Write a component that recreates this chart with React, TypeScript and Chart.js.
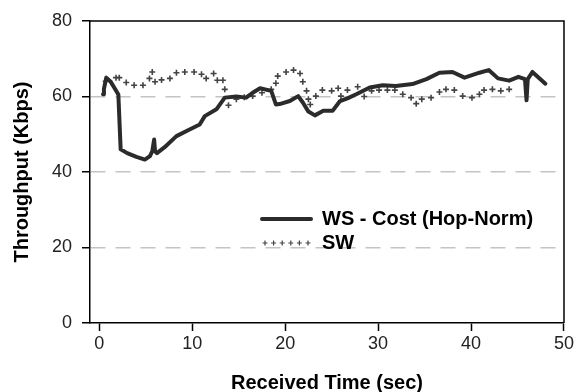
import React, { useEffect, useRef } from "react";
import { Chart, registerables } from "chart.js";

Chart.register(...registerables);

const wsLabel = "WS - Cost (Hop-Norm)";
const swLabel = "SW";
const xTitle = "Received Time (sec)";
const yTitle = "Throughput (Kbps)";

const wsX = [0.4, 0.5, 0.75, 1.2, 1.7, 2.05, 2.3, 3.0, 4.0, 4.9, 5.45, 5.7, 5.9, 6.0, 6.2, 7.0, 8.3, 9.5, 10.8, 11.35, 12.6, 13.5, 14.75, 15.8, 16.5, 17.3, 18.5, 19.0, 19.4, 20.5, 21.4, 21.9, 22.5, 23.2, 24.1, 25.1, 25.9, 26.7, 27.65, 29.1, 30.5, 31.9, 33.7, 35.2, 36.6, 38.0, 39.3, 40.9, 41.9, 42.9, 44.1, 45.1, 45.8, 45.97, 46.1, 46.6, 48.0];
const wsY = [60.6, 62, 65, 64, 62, 60.5, 46, 45, 44, 43.3, 44.2, 45.5, 48.6, 45.5, 45, 46.5, 49.5, 51, 52.6, 54.8, 56.6, 59.7, 60, 59.7, 61, 62.2, 61.5, 57.9, 58, 58.8, 60.1, 58.4, 56, 55, 56.2, 56.2, 58.8, 59.5, 60.6, 62.4, 63, 62.8, 63.3, 64.6, 66.3, 66.5, 65, 66.3, 67, 64.8, 64.2, 65.2, 64.6, 59, 64.6, 66.5, 63.4];

const swX = [0.7, 1.8, 2.15, 2.9, 3.75, 4.7, 5.4, 5.7, 6.0, 6.7, 7.6, 8.3, 9.2, 10.2, 11.0, 11.5, 12.3, 12.7, 13.3, 13.5, 13.9, 14.75, 15.6, 16.5, 17.5, 18.5, 19.0, 19.2, 20.1, 20.9, 21.6, 21.9, 22.3, 22.5, 22.7, 23.3, 24.0, 25.0, 25.7, 26.0, 26.7, 27.8, 28.5, 29.3, 30.1, 31.0, 31.8, 32.65, 33.55, 34.1, 34.7, 35.7, 36.6, 37.3, 38.2, 39.1, 40.1, 40.9, 41.4, 42.3, 43.2, 44.1];
const swY = [64, 65, 65, 63.7, 63, 63, 64.8, 66.5, 63.9, 64.4, 64.8, 66.3, 66.5, 66.5, 65.9, 64.8, 66.1, 64.3, 64.3, 61.9, 57.7, 59.3, 59.8, 60.1, 61, 61.9, 63.5, 65.4, 66.5, 67, 66.1, 63.9, 61.5, 59.3, 57.9, 60.1, 61.7, 61.5, 62.2, 60.1, 61.7, 62.6, 60.0, 61.5, 61.7, 61.7, 61.7, 60.6, 59.7, 58.1, 59.3, 59.7, 61.2, 61.9, 61.7, 60.1, 59.7, 60.6, 61.7, 61.9, 61.5, 61.9];

const xTickValues = [0, 10, 20, 30, 40, 50];
const yTickValues = [0, 20, 40, 60, 80];
const yGridValues = [20, 40, 60];

const FONT = "'Liberation Sans', Arial, sans-serif";
const WS_COLOR = "#2b2b2b";
const SW_COLOR = "#444";

const frameAndLegend = {
  id: "frameAndLegend",
  afterDatasetsDraw(chart: any) {
    const { ctx, chartArea } = chart;
    ctx.save();
    ctx.strokeStyle = "#000";
    ctx.lineWidth = 1.5;
    ctx.beginPath();
    ctx.moveTo(chartArea.left, chartArea.top);
    ctx.lineTo(chartArea.right, chartArea.top);
    ctx.lineTo(chartArea.right, chartArea.bottom);
    ctx.stroke();

    const lx0 = 262;
    const lx1 = 311;
    const tx = 322;
    const y1 = 219;
    const y2 = 243;
    ctx.strokeStyle = WS_COLOR;
    ctx.lineWidth = 4;
    ctx.lineCap = "round";
    ctx.beginPath();
    ctx.moveTo(lx0, y1);
    ctx.lineTo(lx1, y1);
    ctx.stroke();

    ctx.strokeStyle = SW_COLOR;
    ctx.lineWidth = 1.2;
    ctx.lineCap = "butt";
    for (let i = 0; i < 6; i++) {
      const cx = lx0 + 3 + i * 8.6;
      ctx.beginPath();
      ctx.moveTo(cx - 2.5, y2);
      ctx.lineTo(cx + 2.5, y2);
      ctx.moveTo(cx, y2 - 2.5);
      ctx.lineTo(cx, y2 + 2.5);
      ctx.stroke();
    }

    ctx.fillStyle = "#000";
    ctx.font = `bold 20px ${FONT}`;
    ctx.textBaseline = "middle";
    ctx.textAlign = "left";
    ctx.fillText(chart.data.datasets[0].label, tx, y1);
    ctx.fillText(chart.data.datasets[1].label, tx, y2);
    ctx.restore();
  },
};

export default function App() {
  const ref = useRef<HTMLCanvasElement | null>(null);

  useEffect(() => {
    if (!ref.current) return;
    const chart = new Chart(ref.current, {
      type: "scatter",
      data: {
        datasets: [
          {
            label: wsLabel,
            data: wsX.map((x, i) => ({ x, y: wsY[i] })),
            showLine: true,
            borderColor: WS_COLOR,
            backgroundColor: WS_COLOR,
            borderWidth: 4,
            pointRadius: 0,
            tension: 0,
            borderJoinStyle: "round",
            borderCapStyle: "round",
          },
          {
            label: swLabel,
            data: swX.map((x, i) => ({ x, y: swY[i] })),
            showLine: false,
            pointStyle: "cross",
            pointRadius: 3,
            borderColor: SW_COLOR,
            backgroundColor: SW_COLOR,
            pointBorderWidth: 1.6,
          },
        ],
      },
      options: {
        responsive: false,
        animation: false,
        layout: { padding: { left: 0, right: 11, top: 21, bottom: 0 } },
        plugins: {
          legend: { display: false },
          tooltip: { enabled: false },
        },
        scales: {
          x: {
            type: "linear",
            min: -1,
            max: 50,
            afterBuildTicks: (scale: any) => {
              scale.ticks = xTickValues.map((v) => ({ value: v }));
            },
            afterFit: (scale: any) => {
              scale.height = 69;
            },
            grid: {
              drawOnChartArea: false,
              drawTicks: true,
              tickLength: 8,
              tickColor: "#000",
              tickWidth: 1.5,
            },
            border: { color: "#000", width: 1.5 },
            ticks: {
              color: "#222",
              font: { family: FONT, size: 18 },
              padding: 2,
              maxRotation: 0,
              autoSkip: false,
            },
            title: {
              display: true,
              text: xTitle,
              color: "#000",
              font: { family: FONT, size: 20, weight: "bold", lineHeight: 1 },
              padding: { top: 0, bottom: -1 },
            },
          },
          y: {
            type: "linear",
            min: 0,
            max: 80,
            afterBuildTicks: (scale: any) => {
              scale.ticks = yTickValues.map((v) => ({ value: v }));
            },
            afterFit: (scale: any) => {
              scale.width = 90;
            },
            grid: {
              drawOnChartArea: true,
              drawTicks: true,
              tickLength: 8,
              tickColor: "#000",
              tickWidth: 1.5,
              lineWidth: 1.5,
              color: (ctx: any) =>
                ctx.tick && yGridValues.includes(ctx.tick.value) ? "#c4c4c4" : "rgba(0,0,0,0)",
            },
            border: { color: "#000", width: 1.5, dash: [15, 10] },
            ticks: {
              color: "#222",
              font: { family: FONT, size: 18 },
              padding: 10,
              autoSkip: false,
            },
            title: {
              display: true,
              text: yTitle,
              color: "#000",
              font: { family: FONT, size: 20, weight: "bold", lineHeight: 1 },
              padding: { top: 12, bottom: 0 },
            },
          },
        },
      },
      plugins: [frameAndLegend],
    } as any);
    return () => chart.destroy();
  }, []);

  return (
    <div style={{ position: "fixed", left: 0, top: 0, width: 576, height: 392, background: "#fff" }}>
      <canvas ref={ref} width={576} height={392} />
    </div>
  );
}
